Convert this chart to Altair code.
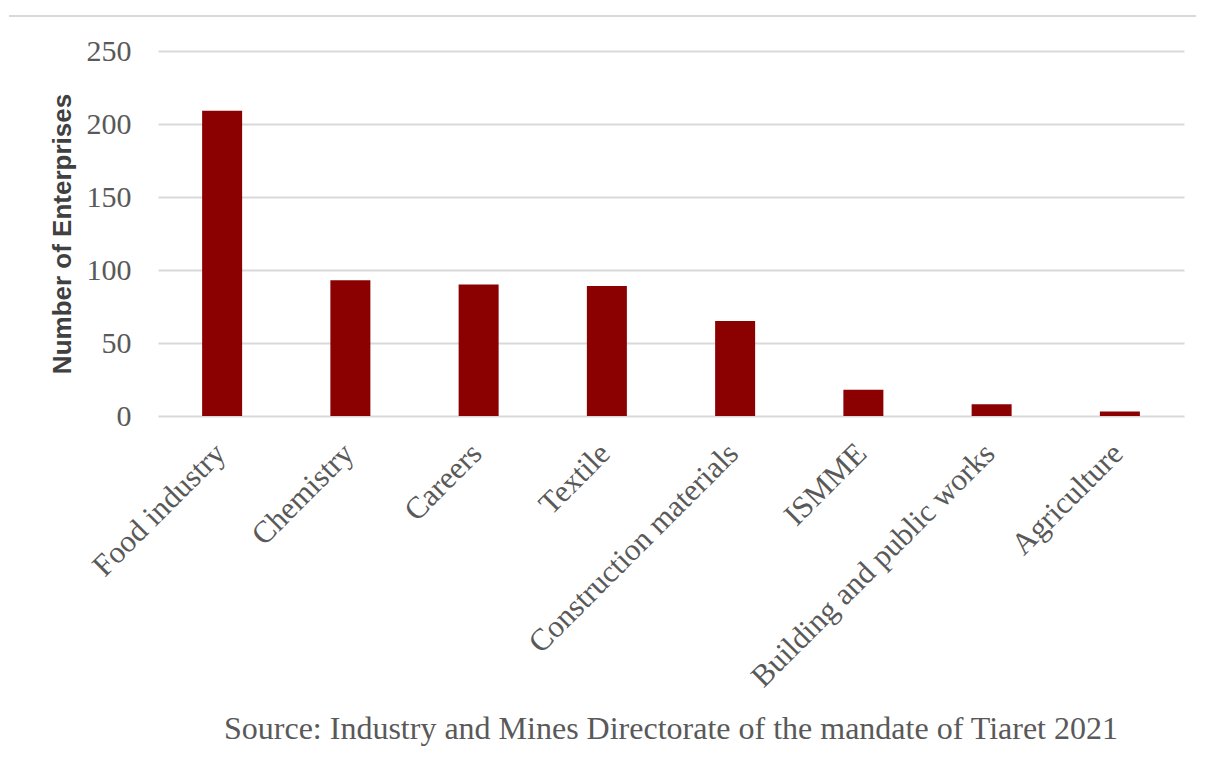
import altair as alt
import pandas as pd

categories = ["Food industry", "Chemistry", "Careers", "Textile",
              "Construction materials", "ISMME", "Building and public works", "Agriculture"]
values = [209, 93, 90, 89, 65, 18, 8, 3]
y_ticks = [0, 50, 100, 150, 200, 250]
source_text = "Source: Industry and Mines Directorate of the mandate of Tiaret 2021"

df = pd.DataFrame({"sector": categories, "count": values})

W, H = 1026, 365
SERIF = "Liberation Serif"
SANS = "Liberation Sans"
GRAY = "#595959"

bars = alt.Chart(df).mark_bar(color="#8B0000", size=40).encode(
    x=alt.X("sector:N", sort=categories, title=None,
            axis=alt.Axis(labelAngle=-45, labelFont=SERIF, labelFontSize=31,
                          labelColor=GRAY, ticks=False, domain=False,
                          labelPadding=22, labelOffset=-12, labelLimit=600)),
    y=alt.Y("count:Q", scale=alt.Scale(domain=[0, 250], nice=False),
            title="Number of Enterprises",
            axis=alt.Axis(values=y_ticks, labelFont=SERIF, labelFontSize=30,
                          labelColor=GRAY, ticks=False, domain=False,
                          labelPadding=27, gridColor="#D9D9D9", gridWidth=2,
                          titleFont=SANS, titleFontSize=26, titleFontWeight="bold",
                          titleColor="#404040", titleX=-96, titleY=H / 2,
                          titleAngle=-90, titleAlign="center",
                          titleBaseline="middle")),
)

top_rule = alt.Chart(df).mark_rule(color="#D9D9D9", strokeWidth=2).encode(
    x=alt.value(-149), x2=alt.value(1038), y=alt.value(-35)
)

chart = alt.layer(top_rule, bars).properties(
    width=W, height=H,
    background="white",
    padding={"left": 0, "top": 7, "right": 0, "bottom": 0},
    title=alt.TitleParams(source_text, orient="bottom", anchor="middle",
                          font=SERIF, fontSize=32, fontWeight="normal",
                          color=GRAY, offset=22),
).configure_view(strokeWidth=0, stroke=None)

chart.save("out.html", embed_options={"renderer": "svg", "actions": False})
